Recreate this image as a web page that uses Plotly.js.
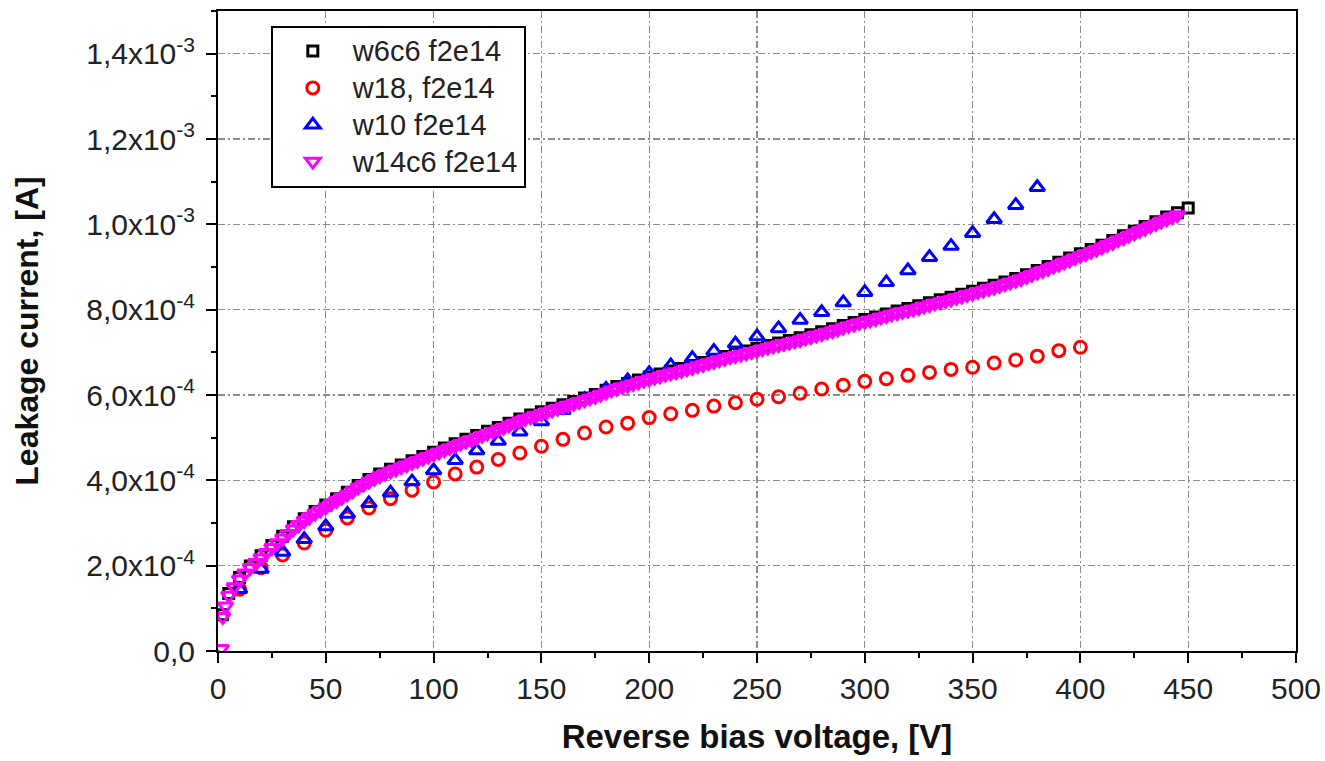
<!DOCTYPE html>
<html>
<head>
<meta charset="utf-8">
<script src="https://cdn.plot.ly/plotly-3.0.1.min.js"></script>
<style>html,body{margin:0;padding:0;background:#fff;}#chart{width:1325px;height:761px;}</style>
</head>
<body>
<div id="chart"></div>
<script>
// Leakage current values are in units of 1e-4 A
const seriesNames = ["w6c6 f2e14", "w18, f2e14", "w10 f2e14", "w14c6 f2e14"];

const blackV = [2, 5, 10, 15, 20, 25, 30, 35, 40, 45, 50, 55, 60, 65, 70, 75, 80, 85, 90, 95, 100, 105, 110, 115, 120, 125, 130, 135, 140, 145, 150, 155, 160, 165, 170, 175, 180, 185, 190, 195, 200, 205, 210, 215, 220, 225, 230, 235, 240, 245, 250, 255, 260, 265, 270, 275, 280, 285, 290, 295, 300, 305, 310, 315, 320, 325, 330, 335, 340, 345, 350, 355, 360, 365, 370, 375, 380, 385, 390, 395, 400, 405, 410, 415, 420, 425, 430, 435, 440, 445, 450];
const blackI = [0.85, 1.35, 1.72, 1.99, 2.23, 2.47, 2.69, 2.91, 3.10, 3.27, 3.42, 3.57, 3.72, 3.88, 4.02, 4.15, 4.26, 4.36, 4.46, 4.56, 4.66, 4.76, 4.86, 4.96, 5.05, 5.15, 5.24, 5.34, 5.44, 5.53, 5.61, 5.69, 5.77, 5.85, 5.93, 6.01, 6.11, 6.20, 6.27, 6.35, 6.42, 6.49, 6.56, 6.62, 6.69, 6.76, 6.83, 6.90, 6.97, 7.03, 7.09, 7.16, 7.22, 7.28, 7.34, 7.41, 7.48, 7.55, 7.63, 7.70, 7.77, 7.83, 7.90, 7.97, 8.03, 8.09, 8.16, 8.23, 8.29, 8.36, 8.43, 8.50, 8.57, 8.65, 8.73, 8.82, 8.92, 9.01, 9.11, 9.21, 9.31, 9.41, 9.51, 9.62, 9.73, 9.84, 9.95, 10.06, 10.17, 10.27, 10.38];

const redV = [10, 20, 30, 40, 50, 60, 70, 80, 90, 100, 110, 120, 130, 140, 150, 160, 170, 180, 190, 200, 210, 220, 230, 240, 250, 260, 270, 280, 290, 300, 310, 320, 330, 340, 350, 360, 370, 380, 390, 400];
const redI = [1.45, 1.95, 2.25, 2.53, 2.83, 3.12, 3.35, 3.57, 3.77, 3.96, 4.15, 4.31, 4.49, 4.64, 4.80, 4.96, 5.11, 5.25, 5.34, 5.47, 5.56, 5.64, 5.74, 5.82, 5.90, 5.96, 6.04, 6.14, 6.23, 6.32, 6.38, 6.46, 6.53, 6.60, 6.65, 6.75, 6.82, 6.91, 7.04, 7.12];

const blueV = [10, 20, 30, 40, 50, 60, 70, 80, 90, 100, 110, 120, 130, 140, 150, 160, 170, 180, 190, 200, 210, 220, 230, 240, 250, 260, 270, 280, 290, 300, 310, 320, 330, 340, 350, 360, 370, 380];
const blueI = [1.45, 1.92, 2.32, 2.62, 2.92, 3.21, 3.46, 3.71, 3.97, 4.23, 4.47, 4.70, 4.92, 5.14, 5.38, 5.64, 5.90, 6.14, 6.34, 6.51, 6.69, 6.86, 7.03, 7.20, 7.37, 7.56, 7.76, 7.94, 8.17, 8.41, 8.64, 8.92, 9.23, 9.49, 9.79, 10.12, 10.45, 10.87];

const magentaV = [1.5, 2.2, 3.5, 5, 7.5, 10, 12.5, 15, 17.5, 20, 22.5, 25, 27.5, 30, 32.5, 35, 37.5, 40, 42.5, 45, 47.5, 50, 52.5, 55, 57.5, 60, 62.5, 65, 67.5, 70, 72.5, 75, 77.5, 80, 82.5, 85, 87.5, 90, 92.5, 95, 97.5, 100, 102.5, 105, 107.5, 110, 112.5, 115, 117.5, 120, 122.5, 125, 127.5, 130, 132.5, 135, 137.5, 140, 142.5, 145, 147.5, 150, 152.5, 155, 157.5, 160, 162.5, 165, 167.5, 170, 172.5, 175, 177.5, 180, 182.5, 185, 187.5, 190, 192.5, 195, 197.5, 200, 202.5, 205, 207.5, 210, 212.5, 215, 217.5, 220, 222.5, 225, 227.5, 230, 232.5, 235, 237.5, 240, 242.5, 245, 247.5, 250, 252.5, 255, 257.5, 260, 262.5, 265, 267.5, 270, 272.5, 275, 277.5, 280, 282.5, 285, 287.5, 290, 292.5, 295, 297.5, 300, 302.5, 305, 307.5, 310, 312.5, 315, 317.5, 320, 322.5, 325, 327.5, 330, 332.5, 335, 337.5, 340, 342.5, 345, 347.5, 350, 352.5, 355, 357.5, 360, 362.5, 365, 367.5, 370, 372.5, 375, 377.5, 380, 382.5, 385, 387.5, 390, 392.5, 395, 397.5, 400, 402.5, 405, 407.5, 410, 412.5, 415, 417.5, 420, 422.5, 425, 427.5, 430, 432.5, 435, 437.5, 440, 442.5, 445];
const magentaI = [0.05, 0.80, 1.05, 1.30, 1.50, 1.68, 1.82, 1.95, 2.07, 2.18, 2.30, 2.42, 2.53, 2.64, 2.75, 2.86, 2.96, 3.05, 3.14, 3.22, 3.30, 3.37, 3.45, 3.52, 3.60, 3.67, 3.75, 3.83, 3.90, 3.97, 4.04, 4.10, 4.16, 4.21, 4.26, 4.31, 4.36, 4.41, 4.46, 4.51, 4.56, 4.61, 4.66, 4.71, 4.76, 4.81, 4.86, 4.91, 4.95, 5.00, 5.05, 5.10, 5.14, 5.19, 5.24, 5.29, 5.34, 5.39, 5.44, 5.48, 5.52, 5.56, 5.60, 5.64, 5.68, 5.72, 5.76, 5.80, 5.84, 5.88, 5.92, 5.96, 6.01, 6.06, 6.11, 6.15, 6.19, 6.22, 6.26, 6.30, 6.34, 6.37, 6.41, 6.44, 6.48, 6.51, 6.54, 6.57, 6.61, 6.64, 6.68, 6.71, 6.75, 6.78, 6.82, 6.85, 6.89, 6.92, 6.95, 6.98, 7.01, 7.04, 7.08, 7.11, 7.14, 7.17, 7.20, 7.23, 7.26, 7.29, 7.33, 7.36, 7.40, 7.43, 7.47, 7.50, 7.54, 7.58, 7.62, 7.65, 7.69, 7.72, 7.75, 7.78, 7.82, 7.85, 7.89, 7.92, 7.95, 7.98, 8.01, 8.04, 8.08, 8.11, 8.15, 8.18, 8.21, 8.24, 8.28, 8.31, 8.35, 8.38, 8.42, 8.45, 8.49, 8.52, 8.56, 8.60, 8.64, 8.68, 8.72, 8.77, 8.82, 8.87, 8.91, 8.96, 9.01, 9.06, 9.11, 9.16, 9.21, 9.26, 9.31, 9.36, 9.41, 9.46, 9.52, 9.57, 9.63, 9.68, 9.74, 9.79, 9.85, 9.90, 9.96, 10.01, 10.07, 10.12, 10.17, 10.22];

const yTickVals = [0, 2, 4, 6, 8, 10, 12, 14];
const yTickText = ["0,0", "2,0x10<sup>-4</sup>", "4,0x10<sup>-4</sup>", "6,0x10<sup>-4</sup>", "8,0x10<sup>-4</sup>", "1,0x10<sup>-3</sup>", "1,2x10<sup>-3</sup>", "1,4x10<sup>-3</sup>"];
const xTickVals = [0, 50, 100, 150, 200, 250, 300, 350, 400, 450, 500];
const xTickText = ["0", "50", "100", "150", "200", "250", "300", "350", "400", "450", "500"];

const FONT = "Liberation Sans, Arial, sans-serif";

function mk(x, y, name, symbol, color, size, lw) {
  return {
    x: x, y: y, name: '<span style="font-size:29px">' + name + '</span>',
    type: "scatter", mode: "markers",
    marker: {symbol: symbol, size: size, color: color, line: {color: color, width: lw}},
    hoverinfo: "x+y"
  };
}

const traces = [
  mk(blackV, blackI, seriesNames[0], "square-open", "#000000", 10, 3),
  mk(redV, redI, seriesNames[1], "circle-open", "#ff0000", 12, 3),
  mk(blueV, blueI, seriesNames[2], "triangle-up-open", "#0000ff", 13, 3),
  mk(magentaV, magentaI, seriesNames[3], "triangle-down-open", "#ff00ff", 13, 3)
];

const gridDash = "7px,3px,2px,3px";

const layout = {
  width: 1325, height: 761,
  margin: {l: 218, r: 29, t: 11, b: 110, pad: 0},
  paper_bgcolor: "#ffffff", plot_bgcolor: "#ffffff",
  font: {family: FONT, color: "#222222", size: 30},
  showlegend: true,
  legend: {
    x: 0.049, y: 0.977, xanchor: "left", yanchor: "top",
    bgcolor: "#ffffff", bordercolor: "#000000", borderwidth: 2,
    font: {family: FONT, size: 26, color: "#222222"},
    itemwidth: 70,
    itemsizing: "trace"
  },
  xaxis: {
    range: [0, 500], tickmode: "array", tickvals: xTickVals, ticktext: xTickText,
    ticks: "outside", ticklen: 10, tickwidth: 2, tickcolor: "#000",
    showline: true, linecolor: "#000", linewidth: 2, mirror: true,
    showgrid: true, gridcolor: "#8c8c8c", gridwidth: 1.2, griddash: gridDash,
    zeroline: false,
    tickfont: {family: FONT, size: 30, color: "#222222"},
    minor: {tickmode: "linear", tick0: 0, dtick: 25, ticks: "outside", ticklen: 5, tickwidth: 2, tickcolor: "#000", showgrid: false},
    title: {text: "<b>Reverse bias voltage, [V]</b>", font: {family: FONT, size: 33, color: "#111"}, standoff: 21}
  },
  yaxis: {
    range: [0, 15], tickmode: "array", tickvals: yTickVals, ticktext: yTickText,
    ticks: "outside", ticklen: 10, tickwidth: 2, tickcolor: "#000",
    showline: true, linecolor: "#000", linewidth: 2, mirror: true,
    showgrid: true, gridcolor: "#8c8c8c", gridwidth: 1.2, griddash: gridDash,
    zeroline: false,
    ticklabelstandoff: 5,
    tickfont: {family: FONT, size: 30, color: "#222222"},
    minor: {tickmode: "linear", tick0: 0, dtick: 1, ticks: "outside", ticklen: 5, tickwidth: 2, tickcolor: "#000", showgrid: false},
    title: {text: "<b>Leakage current, [A]</b>", font: {family: FONT, size: 32, color: "#111"}, standoff: 38}
  }
};

Plotly.newPlot("chart", traces, layout, {staticPlot: true, displayModeBar: false});
</script>
</body>
</html>
